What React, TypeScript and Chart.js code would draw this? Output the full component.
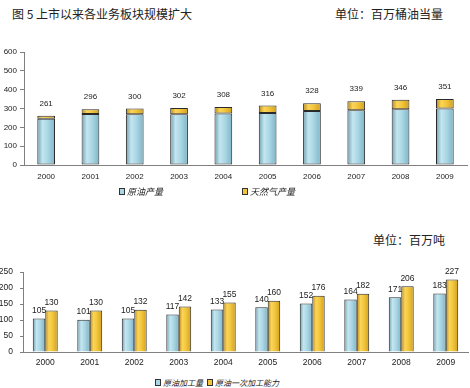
import React, { useEffect, useRef } from "react";
import { Chart, registerables } from "chart.js";

Chart.register(...registerables);

// ---- data ----
const years = ["2000", "2001", "2002", "2003", "2004", "2005", "2006", "2007", "2008", "2009"];
const crudeOutput = [246, 271, 270, 270, 273, 276, 287, 291, 296, 300];
const gasOutput = [15, 25, 30, 32, 35, 40, 41, 48, 50, 51];
const refineVolume = [105, 101, 105, 117, 133, 140, 152, 164, 171, 183];
const refineCapacity = [130, 130, 132, 142, 155, 160, 176, 182, 206, 227];
const topTicks = [0, 100, 200, 300, 400, 500, 600];
const bottomTicks = [0, 50, 100, 150, 200, 250];

const BLUE_STOPS: [number, string][] = [
  [0, "#6f9fb0"],
  [0.3, "#c4e6f0"],
  [0.6, "#a9d6e4"],
  [1, "#80b4c6"],
];
const GOLD_STOPS: [number, string][] = [
  [0, "#b88a14"],
  [0.3, "#fbd55a"],
  [0.6, "#f2c43a"],
  [1, "#cfa020"],
];

const NUM_FONT = '"Liberation Sans", Arial, sans-serif';
const CJK_FONT = '"Noto Sans CJK SC", sans-serif';

const gradientPlugin = {
  id: "barGradient",
  beforeDatasetsDraw(chart: any) {
    const ctx = chart.ctx;
    chart.data.datasets.forEach((ds: any, i: number) => {
      const meta = chart.getDatasetMeta(i);
      meta.data.forEach((bar: any) => {
        const x = bar.x;
        const width = bar.width;
        const g = ctx.createLinearGradient(x - width / 2, 0, x + width / 2, 0);
        (ds.gradStops as [number, string][]).forEach(([o, c]) => g.addColorStop(o, c));
        bar.options = Object.assign({}, bar.options, { backgroundColor: g });
      });
    });
  },
};

function makeLabelPlugin(mode: "total" | "each", offset: number, size: number) {
  return {
    id: "valueLabels",
    afterDatasetsDraw(chart: any) {
      const ctx = chart.ctx;
      ctx.save();
      ctx.font = `${size}px ${NUM_FONT}`;
      ctx.fillStyle = "#222";
      ctx.textAlign = "center";
      ctx.textBaseline = "middle";
      if (mode === "total") {
        const last = chart.getDatasetMeta(chart.data.datasets.length - 1);
        last.data.forEach((bar: any, idx: number) => {
          let sum = 0;
          chart.data.datasets.forEach((d: any) => (sum += d.data[idx]));
          ctx.fillText(String(sum), bar.x, bar.y - offset);
        });
      } else {
        chart.data.datasets.forEach((d: any, i: number) => {
          const meta = chart.getDatasetMeta(i);
          meta.data.forEach((bar: any, idx: number) => {
            ctx.fillText(String(d.data[idx]), bar.x, bar.y - offset);
          });
        });
      }
      ctx.restore();
    },
  };
}

function TopChart() {
  const ref = useRef<HTMLCanvasElement>(null);
  useEffect(() => {
    const chart = new Chart(ref.current!, {
      type: "bar",
      data: {
        labels: years,
        datasets: [
          { label: "原油产量", data: crudeOutput, gradStops: BLUE_STOPS, backgroundColor: "#a9d6e4", borderColor: "#2a2a2a", borderWidth: 1, borderSkipped: false } as any,
          { label: "天然气产量", data: gasOutput, gradStops: GOLD_STOPS, backgroundColor: "#f2c43a", borderColor: "#2a2a2a", borderWidth: 1, borderSkipped: false } as any,
        ],
      },
      options: {
        animation: false,
        responsive: false,
        devicePixelRatio: 1,
        layout: { padding: { top: 12, right: 3, left: 0, bottom: 0 } },
        datasets: { bar: { categoryPercentage: 1, barPercentage: 0.4 } },
        plugins: { legend: { display: false }, tooltip: { enabled: false } },
        scales: {
          x: {
            stacked: true,
            afterFit: (s: any) => { s.height = 23; },
            grid: { display: true, drawOnChartArea: false, drawTicks: false },
            border: { display: true, color: "#808080", width: 1 },
            ticks: { padding: 7, color: "#222", font: { size: 8, family: NUM_FONT } },
          },
          y: {
            stacked: true,
            min: 0,
            max: 600,
            afterFit: (s: any) => { s.width = 24; },
            afterBuildTicks: (s: any) => { s.ticks = topTicks.map((v) => ({ value: v })); },
            grid: { drawOnChartArea: false, drawTicks: true, tickLength: 4, color: "#808080" },
            border: { display: true, color: "#808080", width: 1 },
            ticks: { padding: 3, color: "#222", font: { size: 8, family: NUM_FONT } },
          },
        },
      } as any,
      plugins: [gradientPlugin, makeLabelPlugin("total", 12, 8)],
    });
    return () => chart.destroy();
  }, []);
  return <canvas ref={ref} width={470} height={148} style={{ position: "absolute", left: 0, top: 40, width: 470, height: 148 }} />;
}

function BottomChart() {
  const ref = useRef<HTMLCanvasElement>(null);
  useEffect(() => {
    const chart = new Chart(ref.current!, {
      type: "bar",
      data: {
        labels: years,
        datasets: [
          { label: "原油加工量", data: refineVolume, gradStops: BLUE_STOPS, backgroundColor: "#a9d6e4", borderColor: "#2a2a2a", borderWidth: 1, borderSkipped: "bottom" } as any,
          { label: "原油一次加工能力", data: refineCapacity, gradStops: GOLD_STOPS, backgroundColor: "#f2c43a", borderColor: "#2a2a2a", borderWidth: 1, borderSkipped: "bottom" } as any,
        ],
      },
      options: {
        animation: false,
        responsive: false,
        devicePixelRatio: 1,
        layout: { padding: { top: 12, right: 2, left: 0, bottom: 0 } },
        datasets: { bar: { categoryPercentage: 0.56, barPercentage: 1 } },
        plugins: { legend: { display: false }, tooltip: { enabled: false } },
        scales: {
          x: {
            afterFit: (s: any) => { s.height = 18; },
            grid: { display: true, drawOnChartArea: false, drawTicks: false },
            border: { display: true, color: "#808080", width: 1 },
            ticks: { padding: 6, color: "#222", font: { size: 8.5, family: NUM_FONT } },
          },
          y: {
            min: 0,
            max: 250,
            afterFit: (s: any) => { s.width = 23; },
            afterBuildTicks: (s: any) => { s.ticks = bottomTicks.map((v) => ({ value: v })); },
            grid: { drawOnChartArea: false, drawTicks: true, tickLength: 3, color: "#808080" },
            border: { display: true, color: "#808080", width: 1 },
            ticks: { padding: 7, color: "#222", font: { size: 8.5, family: NUM_FONT } },
          },
        },
      } as any,
      plugins: [gradientPlugin, makeLabelPlugin("each", 8, 8.5)],
    });
    return () => chart.destroy();
  }, []);
  return <canvas ref={ref} width={470} height={110} style={{ position: "absolute", left: 0, top: 260, width: 470, height: 110 }} />;
}

function LegendItem({ x, y, color, text, size }: { x: number; y: number; color: string; text: string; size: number }) {
  return (
    <div style={{ position: "absolute", left: x, top: y - 6, height: 12, display: "flex", alignItems: "center", whiteSpace: "nowrap" }}>
      <span style={{ display: "inline-block", width: 4, height: 5, background: color, border: "1px solid #333", marginRight: 2 }} />
      <span style={{ fontFamily: CJK_FONT, fontSize: size, color: "#222", fontStyle: "italic" }}>{text}</span>
    </div>
  );
}

export default function App() {
  const textStyle: React.CSSProperties = {
    position: "absolute",
    fontFamily: CJK_FONT,
    fontSize: 12,
    color: "#222",
    whiteSpace: "nowrap",
    lineHeight: "14px",
  };
  return (
    <div style={{ position: "fixed", left: 0, top: 0, width: 470, height: 388, background: "#fff", overflow: "hidden" }}>
      <div style={{ ...textStyle, left: 12, top: 7 }}>图 5 上市以来各业务板块规模扩大</div>
      <div style={{ ...textStyle, left: 335, top: 7 }}>单位：百万桶油当量</div>
      <TopChart />
      <LegendItem x={119} y={191} color="#a9d6e4" text="原油产量" size={9} />
      <LegendItem x={242} y={191} color="#f2c43a" text="天然气产量" size={9} />
      <div style={{ ...textStyle, left: 373, top: 233 }}>单位：百万吨</div>
      <BottomChart />
      <LegendItem x={155} y={382} color="#a9d6e4" text="原油加工量" size={8} />
      <LegendItem x={207} y={382} color="#f2c43a" text="原油一次加工能力" size={8} />
    </div>
  );
}
